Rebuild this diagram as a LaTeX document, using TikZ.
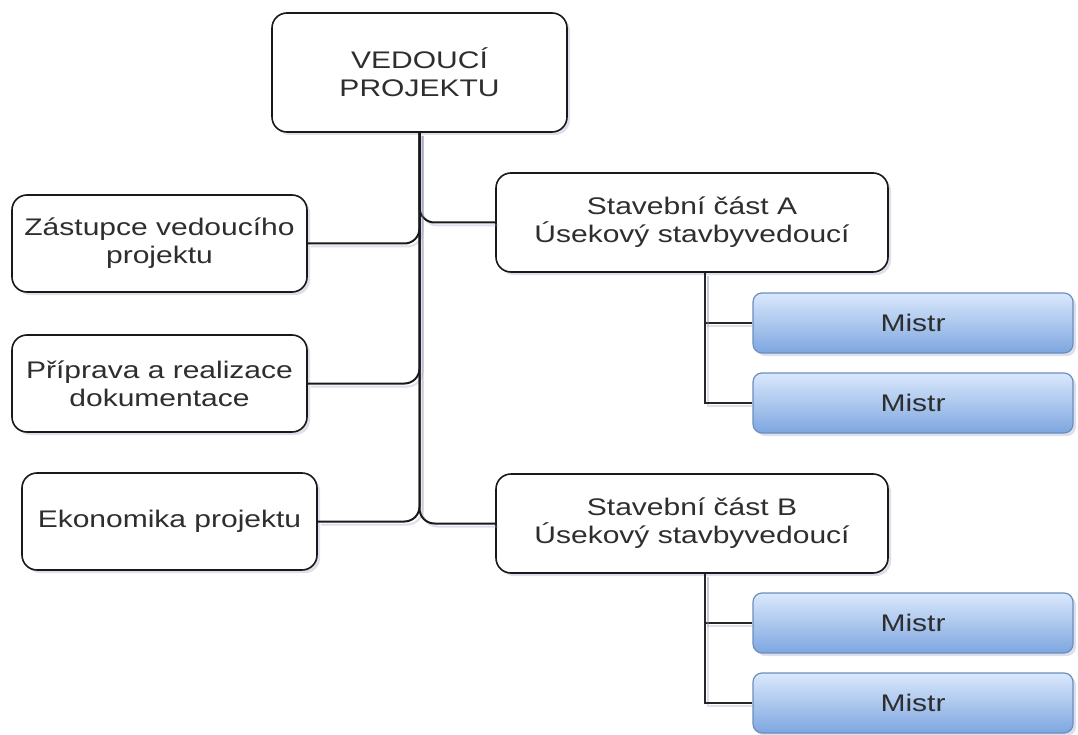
\documentclass[tikz,border=0pt]{standalone}
\usepackage{fontspec}
\setmainfont{Liberation Sans}[FakeStretch=1.25]
\usetikzlibrary{shadows}
\definecolor{txt}{HTML}{2E2E2E}
\definecolor{mfillA}{HTML}{DAE8FC}
\definecolor{mfillB}{HTML}{7EA6E0}
\definecolor{mline}{HTML}{6C8EBF}
\definecolor{shade}{HTML}{9EA2C2}
\begin{document}
\begin{tikzpicture}[x=1pt,y=-1pt,
  every node/.style={font=\fontsize{24}{28}\selectfont, text=txt, align=center, inner sep=0pt},
  boxshadow/.style={drop shadow={shadow xshift=3pt, shadow yshift=-3pt, opacity=0.35, fill=shade}},
  unit/.style={draw=black!90, line width=1.6pt, fill=white, rounded corners=15pt, boxshadow},
  mistr/.style={draw=mline, line width=1.2pt, top color=mfillA, bottom color=mfillB,
                rounded corners=9pt, minimum width=320pt, minimum height=60pt, boxshadow},
  lineshadow/.style={preaction={draw=shade, opacity=0.35, line width=2pt,
                transform canvas={shift={(3pt,-3pt)}}}},
  conn/.style={draw=black!90, line width=2pt, rounded corners=15pt, lineshadow},
  subconn/.style={draw=black!85, line width=1.7pt, lineshadow}
]
\useasboundingbox (0,0) rectangle (1078,735);

% main tree (drawn first so that the boxes sit on top)
\node[unit, minimum width=295pt, minimum height=119pt] (top) at (419.5,72.5) {VEDOUCÍ\\PROJEKTU};
\node[unit, minimum width=295pt, minimum height=97pt] (zast) at (159.5,243.5) {Zástupce vedoucího\\projektu};
\node[unit, minimum width=295pt, minimum height=97pt] (prip) at (159.5,383.5) {Příprava a realizace\\dokumentace};
\node[unit, minimum width=295pt, minimum height=97pt] (ekon) at (169.5,521.5) {Ekonomika projektu};
\node[unit, minimum width=392pt, minimum height=99pt] (sa) at (692,222.5) {Stavební část A\\Úsekový stavbyvedoucí};
\node[unit, minimum width=392pt, minimum height=99pt] (sb) at (692,523.5) {Stavební část B\\Úsekový stavbyvedoucí};

% foremen
\node[mistr] (ma1) at (913,323) {Mistr};
\node[mistr] (ma2) at (913,403) {Mistr};
\node[mistr] (mb1) at (913,623) {Mistr};
\node[mistr] (mb2) at (913,703) {Mistr};

% head to units
\draw[conn] (top.south) |- (zast.east);
\draw[conn] (top.south) |- (prip.east);
\draw[conn] (top.south) |- (ekon.east);
\draw[conn] (top.south) |- (sa.west);
\draw[conn] (top.south) |- (sb.west);

% sections to foremen
\draw[subconn] ([xshift=13pt]sa.south) |- (ma1.west);
\draw[subconn] ([xshift=13pt]sa.south) |- (ma2.west);
\draw[subconn] ([xshift=13pt]sb.south) |- (mb1.west);
\draw[subconn] ([xshift=13pt]sb.south) |- (mb2.west);
\end{tikzpicture}
\end{document}
